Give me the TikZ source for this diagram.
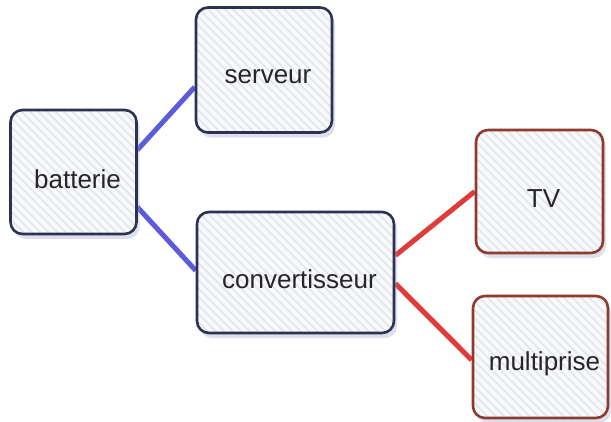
\documentclass[tikz,border=0pt]{standalone}
\usepackage{fontspec}
\setmainfont{Liberation Sans}
\usetikzlibrary{patterns.meta,shadows,backgrounds}
\definecolor{navyborder}{HTML}{2B3252}
\definecolor{redborder}{HTML}{8E3B2E}
\definecolor{blueline}{HTML}{5B5BDC}
\definecolor{redline}{HTML}{E03A3A}
\definecolor{boxfill}{HTML}{F8F9FC}
\definecolor{hatch}{HTML}{E4E5EA}
\definecolor{shadowcol}{HTML}{9FA4C8}
\tikzset{
  box/.style={draw, line width=2.6pt, rounded corners=12pt,
    drop shadow={shadow xshift=3pt, shadow yshift=-5pt, opacity=0.35, fill=shadowcol},
    preaction={fill=boxfill},
    pattern={Lines[angle=-45,distance=6pt,line width=1.6pt]}, pattern color=hatch,
    font=\fontsize{26}{30}\selectfont, inner sep=0pt},
  leftbox/.style={box, draw=navyborder},
  rightbox/.style={box, draw=redborder},
  txt/.style={label={[xshift=4pt,yshift=-7pt,font=\fontsize{26}{30}\selectfont,text=black!85]center:#1}},
  bluelink/.style={draw=blueline, line width=5pt},
  redlink/.style={draw=redline, line width=5pt}
}
\begin{document}
\begin{tikzpicture}[x=1pt,y=-1pt]
\useasboundingbox (0,0) rectangle (611,421);
\node[leftbox, minimum width=126pt, minimum height=124pt, txt=batterie] (bat) at (73.5,172) {};
\node[leftbox, minimum width=136pt, minimum height=125pt, txt=serveur] (srv) at (264,70) {};
\node[leftbox, minimum width=197pt, minimum height=121pt, txt=convertisseur] (conv) at (295.5,272.5) {};
\node[rightbox, minimum width=127pt, minimum height=123pt, txt=TV] (tv) at (539.5,191.5) {};
\node[rightbox, minimum width=135pt, minimum height=122pt, txt=multiprise] (mp) at (540.5,357) {};
\begin{pgfonlayer}{background}
\draw[bluelink] ([yshift=22pt]bat.east) -- ([yshift=-17pt]srv.west);
\draw[bluelink] ([yshift=-35pt]bat.east) -- ([yshift=2pt]conv.west);
\draw[redlink] ([yshift=17pt]conv.east) -- (tv.west);
\draw[redlink] ([yshift=-11pt]conv.east) -- ([yshift=-3pt]mp.west);
\end{pgfonlayer}
\end{tikzpicture}
\end{document}
